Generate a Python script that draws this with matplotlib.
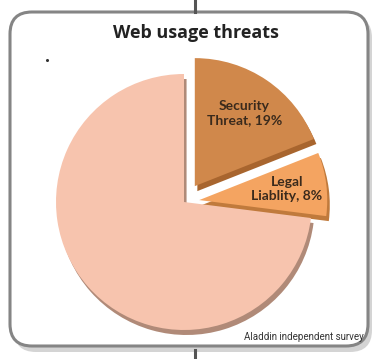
import matplotlib
matplotlib.use("Agg")
import matplotlib.pyplot as plt
from matplotlib.patches import FancyBboxPatch

# data (clockwise from 12 o'clock)
labels = ["Security\nThreat, 19%", "Legal\nLiablity, 8%", ""]
shares = [19, 8, 73]
explode = [0.15, 0.12, 0.0]
colors = ["#D0884B", "#F4A461", "#F7C4AE"]
shade = ["#A8652E", "#C07A3C", "#B08A78"]

W, H = 378, 359
fig = plt.figure(figsize=(W / 100, H / 100), dpi=100)
fig.patch.set_facecolor("white")

# background layer in pixel coords
bg = fig.add_axes([0, 0, 1, 1])
bg.set_xlim(0, W)
bg.set_ylim(H, 0)
bg.axis("off")

# frame shadow + frame
bg.add_patch(FancyBboxPatch((14, 16), 358, 336, boxstyle="round,pad=0,rounding_size=22",
                            fc="#d4d4d4", ec="none", zorder=1))
bg.add_patch(FancyBboxPatch((10, 12), 358, 334, boxstyle="round,pad=0,rounding_size=22",
                            fc="white", ec="#858585", lw=2.2, zorder=2))
bg.plot([195, 195], [0, 12], color="#555555", lw=2.2, zorder=3)
bg.plot([195, 195], [350, 359], color="#555555", lw=2.2, zorder=3)
bg.plot([47], [60], marker="o", ms=1.2, color="#333333", zorder=3)

bg.text(196, 33, "Web usage threats", ha="center", va="center", fontsize=13,
        fontweight="bold", family="Open Sans", color="#222222", zorder=4)
bg.text(364, 337, "Aladdin independent survey", ha="right", va="center", fontsize=7,
        family="Roboto", color="#333333", zorder=4)

# pie
cx, cy, R = 184, 202, 128
pad = 1.3
ax = fig.add_axes([(cx - R * pad) / W, 1 - (cy + R * pad) / H, 2 * R * pad / W, 2 * R * pad / H])

# depth layer (shifted down)
dy = 5 / R
ax.pie(shares, explode=explode, colors=shade, startangle=90, counterclock=False,
       center=(0.02, -dy), frame=True, wedgeprops=dict(lw=0))
ax.pie(shares, explode=explode, colors=colors, startangle=90, counterclock=False,
       labels=labels, labeldistance=0.69, frame=True,
       wedgeprops=dict(lw=0),
       textprops=dict(fontsize=10, fontweight="bold", family="Lato", color="#3a2a1c",
                      ha="center", va="center"))
ax.set_xlim(-pad, pad)
ax.set_ylim(-pad, pad)
ax.axis("off")

fig.savefig("out.png", dpi=100)
